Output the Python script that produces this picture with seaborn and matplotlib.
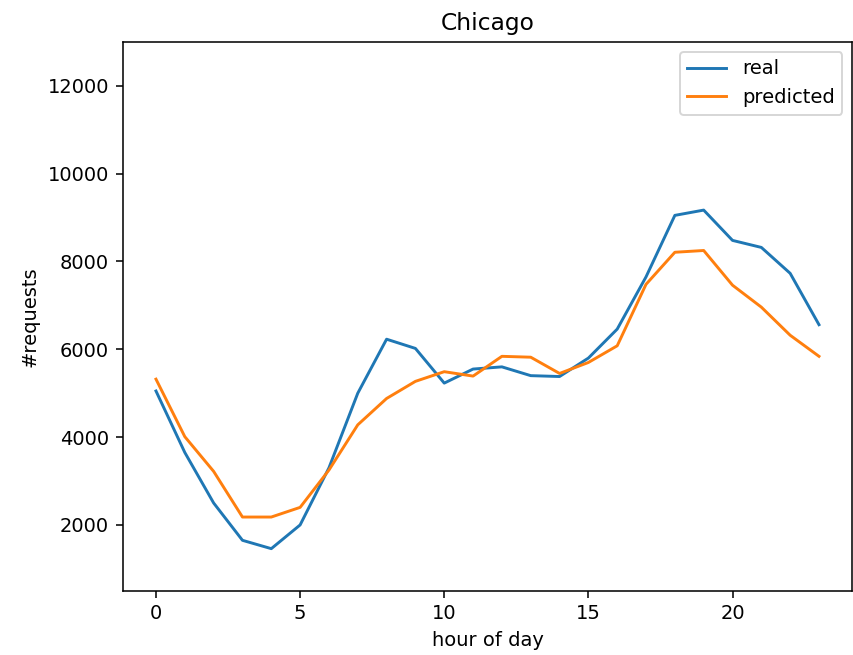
import numpy as np
import pandas as pd
import matplotlib
matplotlib.use("Agg")
import matplotlib.pyplot as plt
import seaborn as sns

hours = list(range(24))
real = [5050, 3650, 2500, 1650, 1460, 2000, 3300, 5000, 6230, 6020, 5230, 5550,
        5600, 5400, 5380, 5800, 6460, 7650, 9050, 9170, 8480, 8320, 7730, 6560]
predicted = [5320, 4010, 3220, 2180, 2180, 2400, 3250, 4280, 4880, 5270, 5490, 5390,
             5840, 5820, 5450, 5700, 6080, 7480, 8210, 8250, 7460, 6960, 6320, 5840]

dpi = 140
fig = plt.figure(figsize=(853 / dpi, 655 / dpi), dpi=dpi)
ax = fig.add_axes([0.144, 0.098, 0.855, 0.838])

df = pd.DataFrame({"hour": hours + hours,
                   "value": real + predicted,
                   "series": ["real"] * 24 + ["predicted"] * 24})
sns.lineplot(data=df, x="hour", y="value", hue="series",
             palette=["#1f77b4", "#ff7f0e"], linewidth=1.5, ax=ax)

ax.set_ylim(500, 13000)
ax.set_xticks([0, 5, 10, 15, 20])
ax.set_title("Chicago")
ax.set_xlabel("hour of day")
ax.set_ylabel("#requests")
ax.legend(loc="upper right", title=None)

fig.savefig("out.png", dpi=dpi)
